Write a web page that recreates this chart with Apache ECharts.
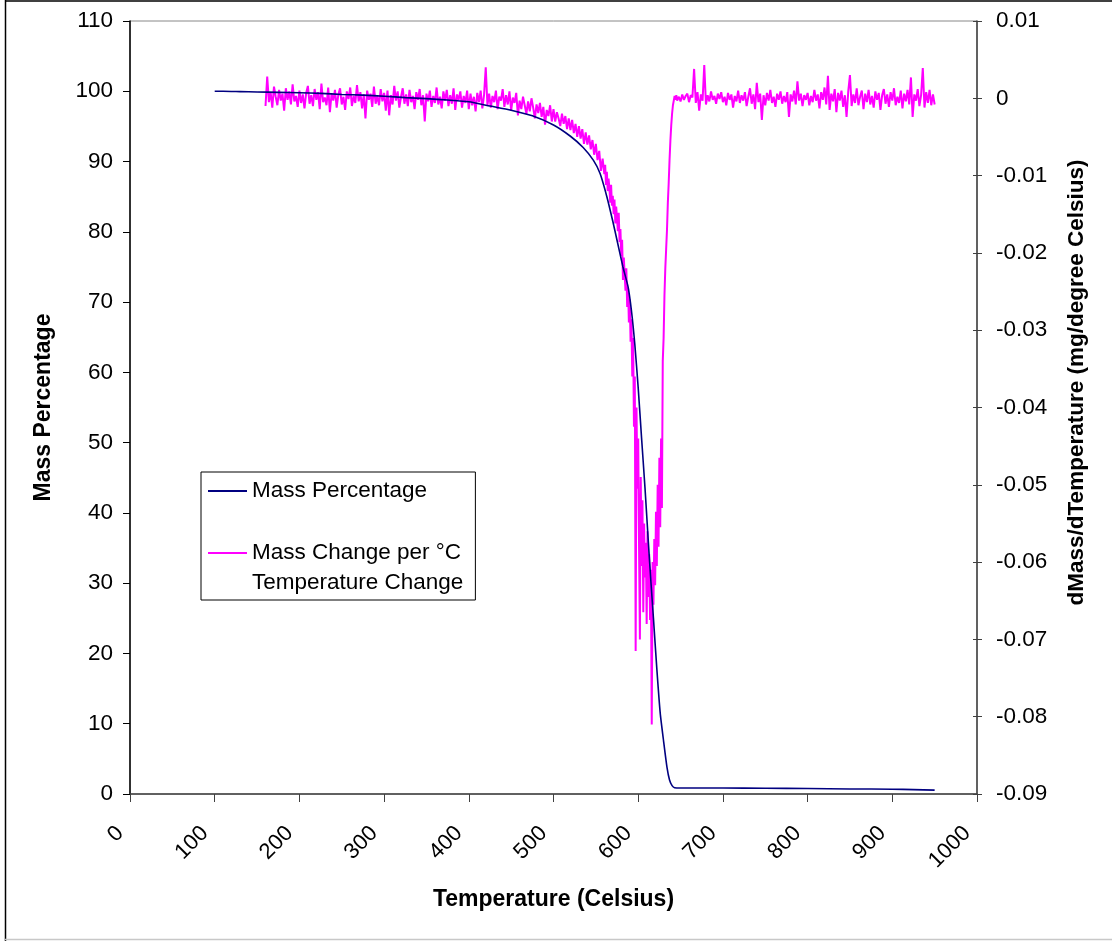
<!DOCTYPE html>
<html>
<head>
<meta charset="utf-8">
<script src="https://cdn.jsdelivr.net/npm/echarts@6/dist/echarts.min.js"></script>
<style>
html,body{margin:0;padding:0;background:#fff;}
#chart{width:1112px;height:941px;}
</style>
</head>
<body>
<div id="chart"></div>
<script>
// ---- Data ----
// Mass percentage curve
const massTemp = [100,110,130,150,175,200,225,250,275,300,325,350,375,400,425,450,475,500,520,535,547,555,563,570,575,582,588,592,596,600,604,608,612,615,618,622,626,630,634,637,640,643,650,700,750,800,850,900,925,950];
const massPct  = [100.0,100.0,99.95,99.9,99.85,99.8,99.7,99.55,99.45,99.3,99.1,98.95,98.75,98.5,97.9,97.3,96.5,95.2,93.6,92.0,90.2,88.3,85.0,81.5,78.8,75.0,72.2,68.8,64.0,57.8,50.6,43.6,35.8,30.2,25.0,17.8,11.5,7.5,3.8,2.0,1.2,0.9,0.85,0.85,0.82,0.78,0.72,0.68,0.62,0.55];

// dMass/dT (in thousandths of mg/°C), in four segments
const dtgBaselineStart = 160, dtgBaselineStep = 2;
const dtgBaseline = [
 -1.0, 2.8, -0.5, 0.8, -1.2, 1.5, 0.2, -0.9, 1.1, -0.3,
 0.6, -1.6, 1.3, -0.2, 0.9, -0.8, 1.8, -0.4, 0.3, -1.1,
 1.0, -0.6, 0.5, -1.3, 0.7, 1.6, -0.7, 0.4, -1.0, 1.2,
 -0.2, 0.8, -1.4, 1.9, -0.5, 0.1, -0.9, 1.4, -1.8, 0.6,
 -0.3, 1.1, -1.2, 0.5, 1.3, -0.8, 0.2, -1.5, 0.9, -0.1,
 1.4, -1.0, 0.3, -0.6, 1.7, -0.4, 0.8, -1.3, 0.5, -2.6,
 1.0, -0.2, 0.6, -1.1, 1.5, -0.7, 0.3, -0.9, 1.2, -0.4,
 0.7, -1.6, 1.0, -2.2, 0.4, -0.8, 1.6, -0.3, 0.9, -1.2,
 0.2, 1.3, -0.7, 0.5, -1.0, 1.1, -0.5, 0.3, -1.4, 0.8,
 -0.2, 1.2, -0.9, 0.4, -3.0, 0.6, -0.4, 1.0, -1.1, 0.3,
 -0.6, 1.4, -0.8, 0.2, -1.3, 0.9, -0.3, 1.1, -1.0, 0.4,
 -0.7, 1.3, -1.5, 0.5, -0.2, 0.9, -1.2, 0.3, -0.6, 1.0,
 -1.4, 0.6, -0.9, 0.2, -1.7, 0.7, -0.5, 1.0, -1.3, 0.4,
 4.0
];
const dtgOnsetStart = 422, dtgOnsetStep = 2;
const dtgOnset = [
 -0.9, 0.6, -1.2, 0.3, -0.5, 1.0, -1.4, 0.2, -0.3, 1.2,
 -1.1, 0.4, -0.8, 0.9, -1.6, 0.1, -0.6, 0.7, -2.2, -0.3,
 -1.4, 0.2, -0.9, -2.0, -0.4, -1.7, 0.0, -1.2, -2.6, -0.8,
 -1.9, -0.6, -2.4, -1.1, -3.4, -1.5, -2.3, -0.9, -3.0, -1.4,
 -3.0, -1.8, -2.6, -3.6, -2.0, -3.3, -2.3, -4.0, -2.6, -4.1,
 -2.8, -4.5, -3.3, -5.0, -3.6, -5.2, -4.0, -5.9, -4.4, -6.0,
 -4.8, -6.6, -5.4, -7.3, -5.9, -8.0, -6.8, -9.4, -7.8
];
const dtgPeakStart = 560, dtgPeakStep = 1;
const dtgPeak = [
 -9.8, -8.6, -11.2, -9.5, -12.0, -10.4, -11.6, -13.5, -11.2, -13.9,
 -12.6, -15.0, -13.1, -16.2, -14.0, -15.5, -17.2, -14.8, -18.6, -16.9,
 -20.4, -18.3, -23.5, -20.6, -22.8, -24.9, -22.0, -27.0, -24.5, -29.0,
 -26.0, -31.5, -28.6, -36.0, -31.0, -42.5, -36.0, -71.5, -40.0, -50.5,
 -44.0, -58.0, -70.0, -49.0, -60.5, -52.0, -66.5, -55.0, -62.0, -57.5,
 -68.0, -56.0, -64.5, -59.0, -67.5, -61.0, -81.0, -60.0, -65.5, -57.0,
 -63.0, -53.5, -60.5, -50.0, -58.0, -46.5, -55.5, -44.0, -53.0, -34.0,
 -31.0, -25.5, -22.0, -19.5, -17.0, -13.5, -11.0, -8.0, -5.5, -3.5,
 -2.0, -0.9, -0.3, 0.3, -0.2, 0.4, -0.3
];
const dtgTailStart = 648, dtgTailStep = 2;
const dtgTail = [
 0.2, -0.4, 0.5, -0.2, 0.3, 0.6, -0.5, 0.4, 0.1, 3.8,
 -0.6, 0.8, -1.6, 0.5, -0.3, 4.3, -0.8, 0.4, -0.4, 0.9,
 -0.2, 0.3, -0.7, 0.6, -0.1, 0.8, -0.5, 0.2, -0.9, 0.7,
 -0.2, 0.5, -1.2, 0.3, -0.4, 1.0, -0.6, 0.4, -0.3, 0.8,
 -1.0, 0.2, 1.3, -0.7, 0.5, -1.4, 2.0, -0.5, 0.6, -2.8,
 0.4, -0.9, 0.7, -0.3, 1.1, -0.6, 0.2, -1.1, 0.6, -0.2,
 0.9, -0.7, 0.3, -0.5, 0.8, -2.4, 0.5, -0.4, 1.0, -0.8,
 2.2, -0.3, 0.6, -1.0, 0.4, -0.2, 0.7, -0.9, 0.3, -0.5,
 1.1, -0.3, 0.5, -1.3, 0.8, -0.2, 1.4, -0.8, 2.9, -1.5,
 0.6, -0.4, 1.2, -1.8, 0.7, -0.3, 1.0, -1.1, 0.4, -2.4,
 0.9, 3.0, -1.0, 0.5, -0.6, 1.3, -0.9, 0.2, 1.0, -1.4,
 0.6, -0.5, 1.1, -0.8, 0.3, -1.2, 0.9, -0.2, 0.7, -1.5,
 0.4, 1.2, -0.7, 0.5, -1.1, 0.8, -0.3, 1.3, -0.9, 0.2,
 -0.6, 1.0, -1.3, 0.6, -0.4, 1.1, -0.8, 2.7, -2.4, 0.5,
 -0.3, 1.2, -1.0, 0.4, 3.9, -1.2, 0.8, -0.6, 1.1, -0.9,
 0.5, -0.8
];

const seriesNames = ['Mass Percentage', 'Mass Change per °C Temperature Change'];
const xTitle = 'Temperature (Celsius)';
const yLeftTitle = 'Mass Percentage';
const yRightTitle = 'dMass/dTemperature (mg/degree Celsius)';

// ---- Build series data ----
const massData = massTemp.map((t, i) => [t, massPct[i]]);
function seg(start, step, vals) { return vals.map((v, i) => [start + i * step, v / 1000]); }
const dtgData = [].concat(
  seg(dtgBaselineStart, dtgBaselineStep, dtgBaseline),
  seg(dtgOnsetStart, dtgOnsetStep, dtgOnset),
  seg(dtgPeakStart, dtgPeakStep, dtgPeak),
  seg(dtgTailStart, dtgTailStep, dtgTail)
);

const FONT = 'Liberation Sans, Arial, Helvetica, sans-serif';
const TICK_FS = 22.5;
const chart = echarts.init(document.getElementById('chart'), null, {renderer: 'canvas'});
const option = {
  backgroundColor: '#ffffff',
  animation: false,
  textStyle: {fontFamily: FONT},
  graphic: [
    {type: 'line', shape: {x1: 5.5, y1: 0, x2: 5.5, y2: 941}, style: {stroke: '#000', lineWidth: 1.5}, silent: true},
    {type: 'line', shape: {x1: 5, y1: 1, x2: 1112, y2: 1}, style: {stroke: '#000', lineWidth: 1.5}, silent: true},
    {type: 'line', shape: {x1: 5, y1: 939.5, x2: 1112, y2: 939.5}, style: {stroke: '#c8c8c8', lineWidth: 1.5}, silent: true}
  ],
  grid: {left: 130, right: 135, top: 21, bottom: 147, show: true, borderColor: '#888', borderWidth: 1, backgroundColor: '#fff'},
  legend: {
    orient: 'vertical',
    left: 201, top: 472,
    backgroundColor: '#fff',
    borderColor: '#000', borderWidth: 1,
    padding: [4, 12, 2, 7],
    itemGap: 2,
    itemWidth: 39, itemHeight: 2,
    icon: 'rect',
    textStyle: {fontFamily: FONT, fontSize: 22.5, color: '#000', lineHeight: 30},
    formatter: function (name) {
      if (name === seriesNames[1]) return '\nMass Change per °C\nTemperature Change';
      return name;
    },
    data: [seriesNames[0], seriesNames[1]]
  },
  xAxis: {
    type: 'value', min: 0, max: 1000, interval: 100,
    name: xTitle, nameLocation: 'middle', nameGap: 94,
    nameTextStyle: {fontFamily: FONT, fontSize: 23, fontWeight: 'bold', color: '#000'},
    axisLine: {show: true, lineStyle: {color: '#404040', width: 1.5}},
    axisTick: {show: true, length: 8, lineStyle: {color: '#404040', width: 1}},
    axisLabel: {rotate: 45, fontSize: 22, color: '#000', margin: 26, padding: [0, 14, 0, 0], fontFamily: FONT,
      formatter: function (v) { return String(v); }},
    splitLine: {show: false}
  },
  yAxis: [
    {
      type: 'value', min: 0, max: 110, interval: 10, position: 'left',
      name: yLeftTitle, nameLocation: 'middle', nameGap: 75, nameRotate: 90,
      nameTextStyle: {fontFamily: FONT, fontSize: 23, fontWeight: 'bold', color: '#000'},
      axisLine: {show: true, lineStyle: {color: '#000', width: 1.5}},
      axisTick: {show: true, length: 7, lineStyle: {color: '#000', width: 1}},
      axisLabel: {fontSize: TICK_FS, color: '#000', margin: 17, fontFamily: FONT},
      splitLine: {show: false}
    },
    {
      type: 'value', min: -0.09, max: 0.01, interval: 0.01, position: 'right',
      name: yRightTitle, nameLocation: 'middle', nameGap: 88, nameRotate: 90,
      nameTextStyle: {fontFamily: FONT, fontSize: 22.5, fontWeight: 'bold', color: '#000', padding: [0, 0, 0, 50]},
      axisLine: {show: true, lineStyle: {color: '#404040', width: 1.5}},
      axisTick: {show: true, length: 5, lineStyle: {color: '#404040', width: 1}},
      axisLabel: {fontSize: TICK_FS, color: '#000', margin: 19, fontFamily: FONT,
        formatter: function (v) { return String(Number(v.toFixed(2))); }},
      splitLine: {show: false}
    },
    {
      type: 'value', min: -0.09, max: 0.01, interval: 0.01, position: 'right',
      axisLine: {show: false},
      axisTick: {show: true, inside: true, length: 4, lineStyle: {color: '#404040', width: 1}},
      axisLabel: {show: false},
      splitLine: {show: false}
    }
  ],
  series: [
    {
      name: seriesNames[1], type: 'line', yAxisIndex: 1, data: dtgData,
      showSymbol: false, symbol: 'none',
      lineStyle: {color: '#ff00ff', width: 2},
      itemStyle: {color: '#ff00ff'},
      z: 2
    },
    {
      name: seriesNames[0], type: 'line', yAxisIndex: 0, data: massData,
      showSymbol: false, symbol: 'none', smooth: 0.2,
      lineStyle: {color: '#000080', width: 1.6},
      itemStyle: {color: '#000080'},
      z: 3
    }
  ]
};
chart.setOption(option);
</script>
</body>
</html>
